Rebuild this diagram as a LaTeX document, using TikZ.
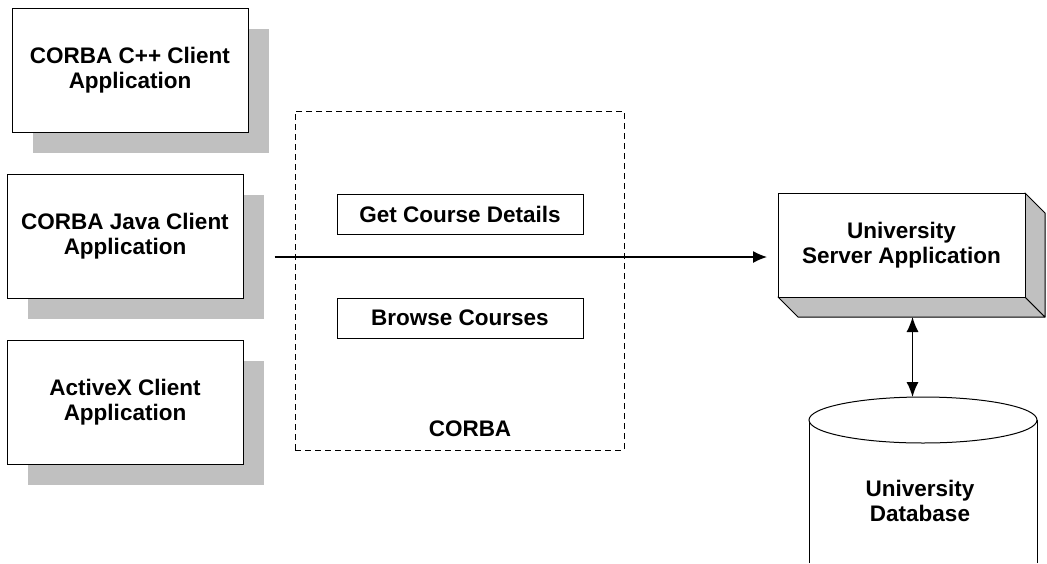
\documentclass[tikz,border=0pt]{standalone}
\usepackage{fontspec}
\setmainfont{Liberation Sans}
\usetikzlibrary{shapes.geometric, arrows.meta, positioning, shadows, calc}
\definecolor{shade}{RGB}{192,192,192}
\tikzstyle{client} = [rectangle, minimum width=236pt, minimum height=124pt, text centered, align=center, draw=black, line width=1pt, fill=white, drop shadow={shadow xshift=21pt, shadow yshift=-21pt, fill=shade, opacity=1}]
\tikzstyle{op} = [rectangle, minimum width=246pt, minimum height=40pt, text centered, draw=black, line width=1pt]
\tikzstyle{orb} = [rectangle, minimum width=329pt, minimum height=339pt, draw=black, line width=0.8pt, dash pattern=on 6pt off 4pt]
\tikzstyle{server} = [rectangle, minimum width=247pt, minimum height=104pt, outer sep=0pt, text centered, align=center, draw=black, line width=1pt, fill=white]
\tikzstyle{face} = [draw=black, line width=1pt, fill=shade, line join=round]
\tikzstyle{arrow} = [line width=1.2pt, -{Latex[length=14pt,width=12pt]}]
\tikzstyle{dblarrow} = [line width=1.2pt, {Latex[length=15pt,width=12pt]}-{Latex[length=15pt,width=12pt]}]

\begin{document}
\begin{tikzpicture}[x=1pt, y=-1pt, node distance=41pt, font=\fontsize{22.5}{25.5}\selectfont\bfseries]
	\useasboundingbox (0,0) rectangle (1047,563);

	% Clients
	\node (ccpp) [client] at (130,70) {CORBA C++ Client\\Application};
	\node (cjava) [client, below=of ccpp, xshift=-5pt] {CORBA Java Client\\Application};
	\node (cax) [client, below=of cjava] {ActiveX Client\\Application};

	% CORBA
	\node (orb) [orb] at (459.5,280.5) {};
	\node (getc) [op] at (460,214) {Get Course Details};
	\node (brwc) [op, below=63pt of getc] {Browse Courses};
	\node (orbl) at (470,429) {CORBA};

	% Server
	\draw[face] (778,297) -- (1025,297) -- (1045,317) -- (798,317) -- cycle;
	\draw[face] (1025,193) -- (1045,213) -- (1045,317) -- (1025,297) -- cycle;
	\node (srv) [server] at (901.5,245) {University\\Server Application};
	\coordinate (srvbot) at ($(srv.south)+(11,20)$);

	% Database
	\coordinate (dbc) at (923,420);
	\coordinate (dbtop) at (923,397);
	\draw[line width=1pt] (809,563) -- (809,420);
	\draw[line width=1pt] (1037,563) -- (1037,420);
	\draw[line width=1pt, fill=white] (dbc) ellipse [x radius=114, y radius=23];
	\node (db) [align=center] at (920,501) {University\\Database};

	% Draw edges
	\coordinate (cjout) at ($(cjava.east)+(31,21)$);
	\draw[arrow, shorten >=11pt] (cjout) -- (cjout -| srv.west);
	\draw[dblarrow] (srvbot) -- (srvbot |- dbtop);
\end{tikzpicture}
\end{document}
